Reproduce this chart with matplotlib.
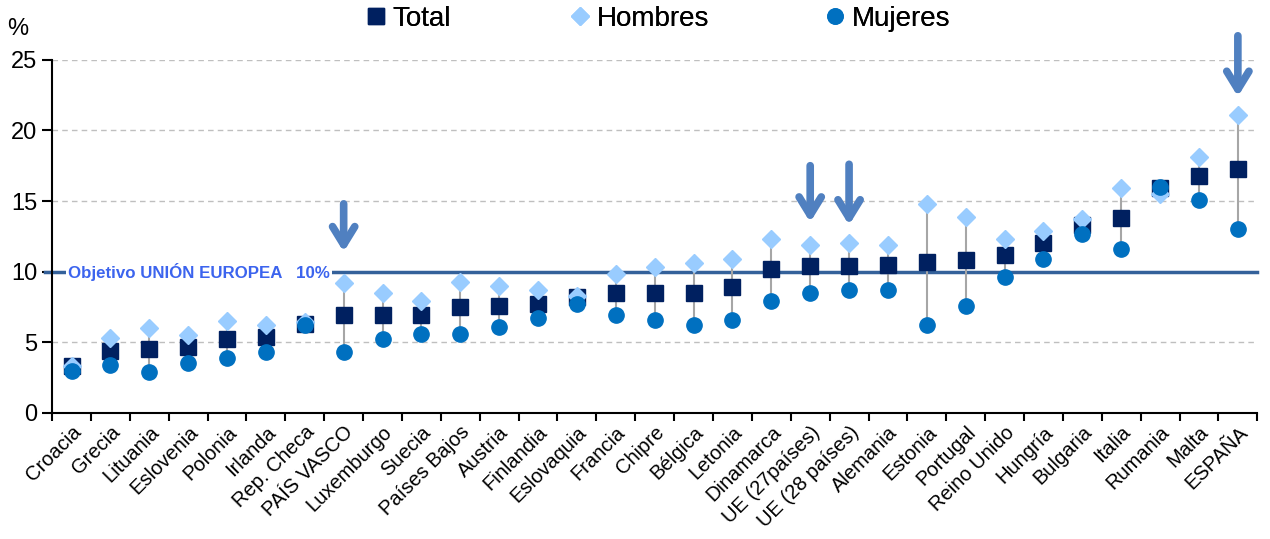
import matplotlib.pyplot as plt
import numpy as np

plt.rcParams['font.family'] = ['Liberation Sans', 'DejaVu Sans']

# Datos (%)
paises = ["Croacia", "Grecia", "Lituania", "Eslovenia", "Polonia", "Irlanda",
          "Rep. Checa", "PAÍS VASCO", "Luxemburgo", "Suecia", "Países Bajos",
          "Austria", "Finlandia", "Eslovaquia", "Francia", "Chipre", "Bélgica",
          "Letonia", "Dinamarca", "UE (27países)", "UE (28 países)", "Alemania",
          "Estonia", "Portugal", "Reino Unido", "Hungría", "Bulgaria", "Italia",
          "Rumania", "Malta", "ESPAÑA"]
total = [3.3, 4.4, 4.5, 4.7, 5.2, 5.4, 6.3, 6.9, 6.9, 6.9, 7.5, 7.6, 7.7, 8.2,
         8.5, 8.5, 8.5, 8.9, 10.2, 10.4, 10.4, 10.5, 10.7, 10.8, 11.2, 12.0,
         13.3, 13.8, 15.9, 16.8, 17.3]
hombres = [3.3, 5.3, 6.0, 5.5, 6.5, 6.2, 6.4, 9.2, 8.5, 7.9, 9.3, 9.0, 8.7, 8.3,
           9.8, 10.3, 10.6, 10.9, 12.3, 11.9, 12.0, 11.9, 14.8, 13.9, 12.3, 12.9,
           13.7, 15.9, 15.5, 18.1, 21.1]
mujeres = [3.0, 3.4, 2.9, 3.5, 3.9, 4.3, 6.2, 4.3, 5.2, 5.6, 5.6, 6.1, 6.7, 7.7,
           6.9, 6.6, 6.2, 6.6, 7.9, 8.5, 8.7, 8.7, 6.2, 7.6, 9.6, 10.9, 12.7, 11.6,
           16.0, 15.1, 13.0]
objetivo = 10
destacados = ["PAÍS VASCO", "UE (27países)", "UE (28 países)", "ESPAÑA"]

fig = plt.figure(figsize=(12.7, 5.39), dpi=100)
ax = fig.add_axes([0.041, 0.234, 0.949, 0.655])

x = np.arange(len(paises))
lo = np.minimum(np.minimum(hombres, mujeres), total)
hi = np.maximum(np.maximum(hombres, mujeres), total)
ax.vlines(x, lo, hi, color='#a6a6a6', linewidth=1.5, zorder=2)

# linea del objetivo
ax.axhline(objetivo, xmin=-0.006, color='#34619a', linewidth=2.5, zorder=1, clip_on=False)
ax.text(-0.1, objetivo, "Objetivo UNIÓN EUROPEA   10%", color='#3c64ee',
        fontsize=12.2, fontweight='bold', va='center', ha='left', zorder=1.5,
        bbox=dict(facecolor='white', edgecolor='none', pad=1.5))

l1, = ax.plot(x, total, 's', color='#002060', markersize=11, zorder=3, label='Total')
l2, = ax.plot(x, hombres, 'D', color='#99ccff', markersize=9, zorder=4, label='Hombres')
l3, = ax.plot(x, mujeres, 'o', color='#0070c0', markersize=11, zorder=5, label='Mujeres')

# flechas
huecos = [2.0, 1.4, 1.1, 1.1]
for p, g in zip(destacados, huecos):
    i = paises.index(p)
    top = max(hombres[i], total[i])
    ax.annotate('', xy=(i, top + g), xytext=(i, top + 5.8),
                arrowprops=dict(arrowstyle='->,head_length=1.3,head_width=0.8',
                                color='#5080c0', linewidth=5.5),
                annotation_clip=False, zorder=6)

ax.set_xlim(-0.5, len(paises) - 0.5)
ax.set_ylim(0, 25)
ax.set_yticks([0, 5, 10, 15, 20, 25])
ax.yaxis.grid(True, linestyle=(0, (4, 3)), color='#bfbfbf', linewidth=1)
ax.set_axisbelow(True)
ax.set_xticks(x)
ax.set_xticklabels(paises, rotation=45, ha='right', rotation_mode='anchor', fontsize=14.5)
ax.set_xticks(np.arange(len(paises) + 1) - 0.5, minor=True)
ax.tick_params(axis='x', which='major', length=0, pad=7)
ax.tick_params(axis='x', which='minor', length=6, direction='out', width=1.5)
ax.tick_params(axis='y', labelsize=17, length=7, width=1.5, direction='out')
for s in ['top', 'right']:
    ax.spines[s].set_visible(False)
ax.spines['left'].set_linewidth(1.5)
ax.spines['bottom'].set_linewidth(1.5)

fig.text(0.006, 0.935, "%", fontsize=17)

# leyenda: una entrada por serie
for h, xl in zip([l1, l2, l3], [0.287, 0.448, 0.649]):
    leg = fig.legend(handles=[h], loc='center left', bbox_to_anchor=(xl, 0.965),
                     frameon=False, fontsize=20, handletextpad=0.2, handlelength=0.8,
                     borderpad=0, borderaxespad=0)
    fig.add_artist(leg)

fig.savefig('out.png', dpi=100)
